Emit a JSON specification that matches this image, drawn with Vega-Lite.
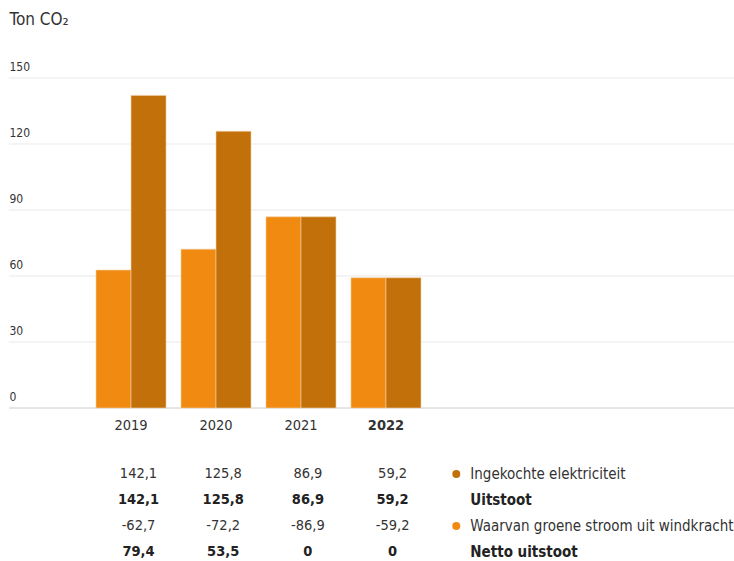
{
  "$schema": "https://vega.github.io/schema/vega-lite/v6.json",
  "padding": {"left": 8, "top": 10, "right": 0, "bottom": 0},
  "background": "white",
  "config": {
    "font": "DejaVu Sans Condensed, sans-serif",
    "view": {"stroke": null},
    "locale": {"number": {"decimal": ",", "thousands": ".", "grouping": [3], "currency": ["€", ""], "minus": "-"}}
  },
  "datasets": {
    "bars": [
      {"year": "2019", "series": "Waarvan groene stroom uit windkracht", "value": 62.7},
      {"year": "2019", "series": "Ingekochte elektriciteit", "value": 142.1},
      {"year": "2020", "series": "Waarvan groene stroom uit windkracht", "value": 72.2},
      {"year": "2020", "series": "Ingekochte elektriciteit", "value": 125.8},
      {"year": "2021", "series": "Waarvan groene stroom uit windkracht", "value": 86.9},
      {"year": "2021", "series": "Ingekochte elektriciteit", "value": 86.9},
      {"year": "2022", "series": "Waarvan groene stroom uit windkracht", "value": 59.2},
      {"year": "2022", "series": "Ingekochte elektriciteit", "value": 59.2}
    ],
    "ticks": [
      {"tick": 0}, {"tick": 30}, {"tick": 60}, {"tick": 90}, {"tick": 120}, {"tick": 150}
    ],
    "table": [
      {"row": "Ingekochte elektriciteit", "year": "2019", "value": 142.1},
      {"row": "Ingekochte elektriciteit", "year": "2020", "value": 125.8},
      {"row": "Ingekochte elektriciteit", "year": "2021", "value": 86.9},
      {"row": "Ingekochte elektriciteit", "year": "2022", "value": 59.2},
      {"row": "Uitstoot", "year": "2019", "value": 142.1},
      {"row": "Uitstoot", "year": "2020", "value": 125.8},
      {"row": "Uitstoot", "year": "2021", "value": 86.9},
      {"row": "Uitstoot", "year": "2022", "value": 59.2},
      {"row": "Waarvan groene stroom uit windkracht", "year": "2019", "value": -62.7},
      {"row": "Waarvan groene stroom uit windkracht", "year": "2020", "value": -72.2},
      {"row": "Waarvan groene stroom uit windkracht", "year": "2021", "value": -86.9},
      {"row": "Waarvan groene stroom uit windkracht", "year": "2022", "value": -59.2},
      {"row": "Netto uitstoot", "year": "2019", "value": 79.4},
      {"row": "Netto uitstoot", "year": "2020", "value": 53.5},
      {"row": "Netto uitstoot", "year": "2021", "value": 0},
      {"row": "Netto uitstoot", "year": "2022", "value": 0}
    ],
    "labels": [
      {"row": "Ingekochte elektriciteit", "series": "Ingekochte elektriciteit"},
      {"row": "Uitstoot"},
      {"row": "Waarvan groene stroom uit windkracht", "series": "Waarvan groene stroom uit windkracht"},
      {"row": "Netto uitstoot"}
    ]
  },
  "spacing": 29,
  "vconcat": [
    {
      "width": 726,
      "height": 330,
      "layer": [
        {
          "data": {"name": "ticks"},
          "mark": {"type": "rule", "strokeWidth": 1},
          "encoding": {
            "y": {
              "field": "tick", "type": "quantitative",
              "scale": {"domain": [0, 150], "nice": false},
              "axis": {
                "values": [0, 30, 60, 90, 120, 150], "domain": false, "ticks": false, "grid": false,
                "labelAlign": "left", "labelBaseline": "bottom",
                "labelPadding": 0, "labelOffset": -5, "labelFontSize": 12, "labelColor": "#333",
                "title": "Ton CO₂", "titleAngle": 0, "titleAlign": "left", "titleBaseline": "alphabetic",
                "titleX": 0, "titleY": -54, "titleFontSize": 17, "titleFontWeight": "normal", "titleColor": "#333"
              }
            },
            "color": {"condition": {"test": "datum.tick == 0", "value": "#cccccc"}, "value": "#e9e9e9"}
          }
        },
        {
          "data": {"name": "bars"},
          "mark": {"type": "bar", "stroke": "#f3d2a8", "strokeWidth": 0.6},
          "encoding": {
            "x": {
              "field": "year", "type": "ordinal",
              "scale": {"paddingInner": 0.176, "paddingOuter": 0, "range": [87, 412]},
              "axis": {
                "title": null, "labelAngle": 0, "ticks": false, "domain": false,
                "labelFontSize": 14.5, "labelColor": "#333", "labelPadding": 10,
                "labelFontWeight": {"condition": {"test": "datum.value == '2022'", "value": "bold"}, "value": "normal"}
              }
            },
            "xOffset": {
              "field": "series", "type": "nominal",
              "scale": {"domain": ["Waarvan groene stroom uit windkracht", "Ingekochte elektriciteit"], "paddingInner": 0, "paddingOuter": 0}
            },
            "y": {
              "field": "value", "type": "quantitative",
              "scale": {"domain": [0, 150], "nice": false},
              "axis": {
                "values": [0, 30, 60, 90, 120, 150], "domain": false, "ticks": false, "grid": false,
                "labelAlign": "left", "labelBaseline": "bottom",
                "labelPadding": 0, "labelOffset": -5, "labelFontSize": 12, "labelColor": "#333",
                "title": "Ton CO₂", "titleAngle": 0, "titleAlign": "left", "titleBaseline": "alphabetic",
                "titleX": 0, "titleY": -54, "titleFontSize": 17, "titleFontWeight": "normal", "titleColor": "#333"
              }
            },
            "color": {
              "field": "series", "type": "nominal",
              "scale": {"domain": ["Ingekochte elektriciteit", "Waarvan groene stroom uit windkracht"], "range": ["#C1700A", "#F08A10"]},
              "legend": null
            }
          }
        }
      ]
    },
    {
      "width": 516,
      "height": 104,
      "encoding": {
        "y": {"field": "row", "type": "nominal", "scale": {"type": "point", "padding": 0.5, "domain": ["Ingekochte elektriciteit", "Uitstoot", "Waarvan groene stroom uit windkracht", "Netto uitstoot"]}, "axis": null}
      },
      "layer": [
        {
          "data": {"name": "table"},
          "transform": [{"filter": {"not": {"field": "row", "oneOf": ["Uitstoot", "Netto uitstoot"]}}}],
          "mark": {"type": "text", "align": "center", "baseline": "middle", "fontSize": 14.5, "color": "#333"},
          "encoding": {
            "x": {"field": "year", "type": "ordinal", "scale": {"type": "point", "padding": 0, "range": [129.5, 468.3], "domain": ["2019", "2020", "2021", "2022", "label"]}, "axis": null},
            "text": {"field": "value", "type": "quantitative", "format": ".1~f"}
          }
        },
        {
          "data": {"name": "table"},
          "transform": [{"filter": {"field": "row", "oneOf": ["Uitstoot", "Netto uitstoot"]}}],
          "mark": {"type": "text", "align": "center", "baseline": "middle", "fontSize": 14.5, "fontWeight": "bold", "color": "#222"},
          "encoding": {
            "x": {"field": "year", "type": "ordinal", "scale": {"type": "point", "padding": 0, "range": [129.5, 468.3], "domain": ["2019", "2020", "2021", "2022", "label"]}, "axis": null},
            "text": {"field": "value", "type": "quantitative", "format": ".1~f"}
          }
        },
        {
          "data": {"name": "labels"},
          "transform": [{"filter": "isValid(datum.series)"}],
          "mark": {"type": "circle", "size": 64, "opacity": 1, "xOffset": -21},
          "encoding": {
            "x": {"datum": "label", "type": "ordinal"},
            "color": {"field": "series", "type": "nominal", "scale": {"domain": ["Ingekochte elektriciteit", "Waarvan groene stroom uit windkracht"], "range": ["#C1700A", "#F08A10"]}, "legend": null}
          }
        },
        {
          "data": {"name": "labels"},
          "transform": [{"filter": {"not": {"field": "row", "oneOf": ["Uitstoot", "Netto uitstoot"]}}}],
          "mark": {"type": "text", "align": "left", "baseline": "middle", "fontSize": 15, "color": "#333", "dx": -7},
          "encoding": {
            "x": {"datum": "label", "type": "ordinal"},
            "text": {"field": "row"}
          }
        },
        {
          "data": {"name": "labels"},
          "transform": [{"filter": {"field": "row", "oneOf": ["Uitstoot", "Netto uitstoot"]}}],
          "mark": {"type": "text", "align": "left", "baseline": "middle", "fontSize": 15, "fontWeight": "bold", "color": "#222", "dx": -7},
          "encoding": {
            "x": {"datum": "label", "type": "ordinal"},
            "text": {"field": "row"}
          }
        }
      ]
    }
  ]
}
